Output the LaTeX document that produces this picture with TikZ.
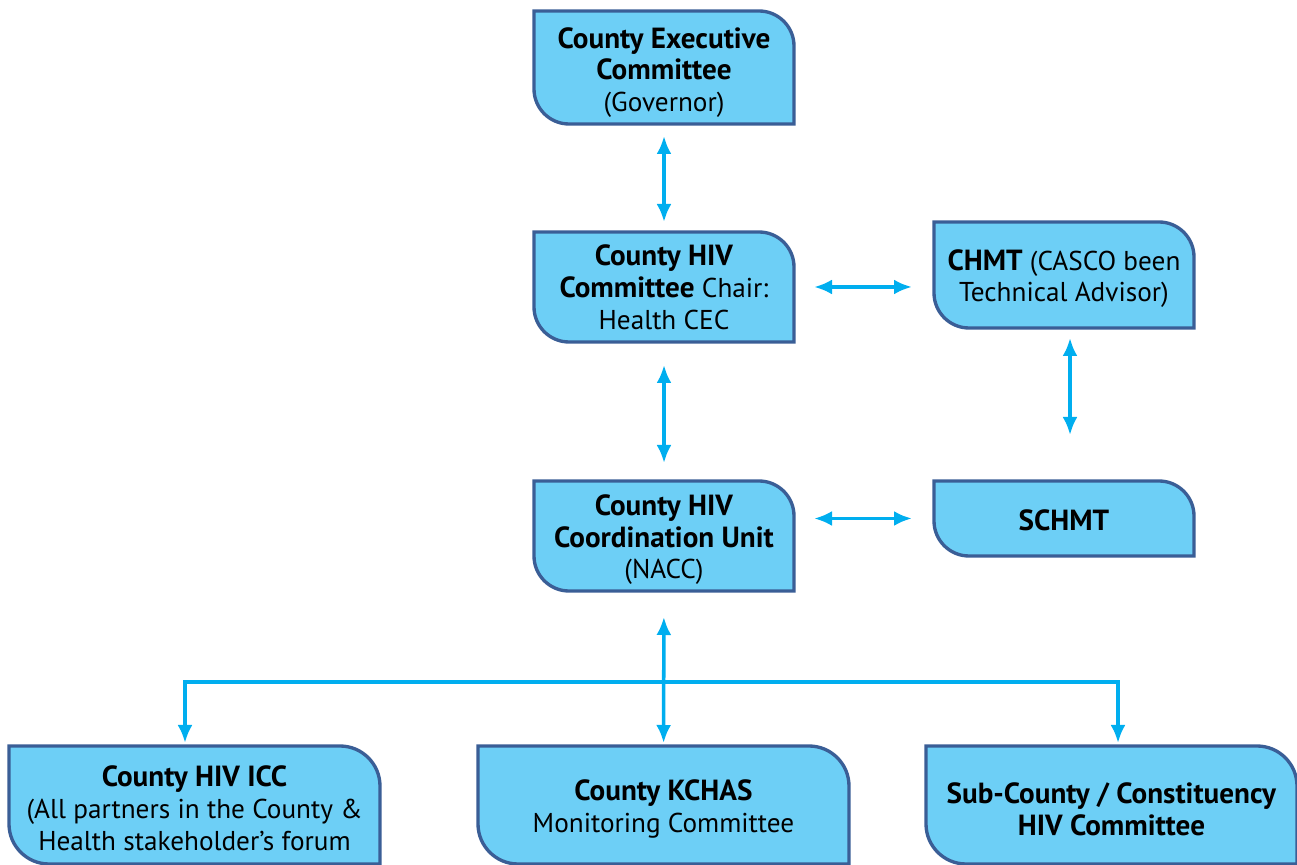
\documentclass[tikz,border=0pt]{standalone}
\usepackage{fontspec}
\setmainfont[BoldFeatures={Scale=1.07}]{PT Sans}
\usetikzlibrary{arrows.meta,backgrounds,positioning}
\definecolor{boxfill}{HTML}{6DCFF6}
\definecolor{boxedge}{HTML}{3A5E96}
\definecolor{linkblue}{HTML}{00AEEF}
\newcommand{\lead}[1][5.6mm]{\rule{0pt}{#1}}
\tikzset{
    unit/.style={minimum width=5.2cm,minimum height=2.2cm,align=center,inner sep=2pt,outer sep=0pt,
        font=\fontsize{15.5}{18.2}\selectfont},
    wideunit/.style={unit,minimum width=7.42cm,minimum height=2.36cm},
    leaf/.style={draw=boxedge,fill=boxfill,line width=1.9pt},
    link/.style={draw=linkblue,line width=2pt,{Latex[length=3.6mm,width=3mm]}-{Latex[length=3.6mm,width=3mm]}},
    feed/.style={draw=linkblue,line width=2pt,-{Latex[length=3.6mm,width=3mm]}}
}

\begin{document}
\begin{tikzpicture}
\clip (0,0) rectangle (25.94,-17.3);
% top chain
\node[unit,minimum height=2.26cm] (cec) at (13.28,-1.35) {\lead[6.2mm]\textbf{County Executive}\\\textbf{Committee}\\(Governor)};
\node[unit] (hivc) at (13.28,-5.74) {\textbf{County HIV}\\\textbf{Committee} Chair:\\Health CEC};
\node[unit,minimum height=2.12cm] (chmt) at (21.28,-5.5) {\lead\textbf{CHMT} (CASCO been\\Technical Advisor)};
\node[unit] (unitc) at (13.28,-10.72) {\lead\textbf{County HIV}\\\textbf{Coordination Unit}\\(NACC)};
\node[unit,minimum height=1.5cm] (schmt) at (21.28,-10.37) {\lead[5mm]\textbf{SCHMT}};
% bottom row
\node[wideunit] (icc) at (3.89,-16.1) {\lead[5.4mm]\textbf{County HIV ICC}\\(All partners in the County \&\\Health stakeholder’s forum};
\node[wideunit] (kchas) at (13.27,-16.1) {\lead[5.8mm]\textbf{County KCHAS}\\Monitoring Committee};
\node[wideunit] (subc) at (22.23,-16.1) {\lead[5.8mm]\textbf{Sub-County / Constituency}\\\textbf{HIV Committee}};

\begin{scope}[on background layer]
\foreach \n/\r in {cec/0.7,hivc/0.7,chmt/0.7,unitc/0.7,schmt/0.7,icc/0.8,kchas/0.8,subc/0.8}
    \draw[leaf] (\n.north west) -- ([xshift=-\r cm]\n.north east) arc[start angle=90,end angle=0,radius=\r]
        -- (\n.south east) -- ([xshift=\r cm]\n.south west) arc[start angle=270,end angle=180,radius=\r] -- cycle;
\end{scope}

% links
\draw[link,shorten <=0.24cm,shorten >=0.2cm] (cec) -- (hivc);
\draw[link,shorten <=0.4cm,shorten >=0.44cm] (hivc.east) -- (hivc.east -| chmt.west);
\draw[link,shorten <=0.46cm,shorten >=0.36cm] (hivc) -- (unitc);
\draw[link,shorten <=0.2cm,shorten >=0.92cm] ([xshift=0.12cm]chmt.south) -- ([xshift=0.12cm]schmt.north);
\draw[link,shorten <=0.4cm,shorten >=0.44cm] (unitc.east |- schmt.west) -- (schmt.west);
\draw[link,shorten <=0.52cm,shorten >=0.06cm] (unitc) -- (kchas);
\coordinate (fork) at (13.28,-13.64);
\draw[feed,shorten >=0.06cm] (fork) -| ([xshift=-0.19cm]icc.north);
\draw[feed,shorten >=0.06cm] (fork) -| ([xshift=0.13cm]subc.north);
\end{tikzpicture}
\end{document}
